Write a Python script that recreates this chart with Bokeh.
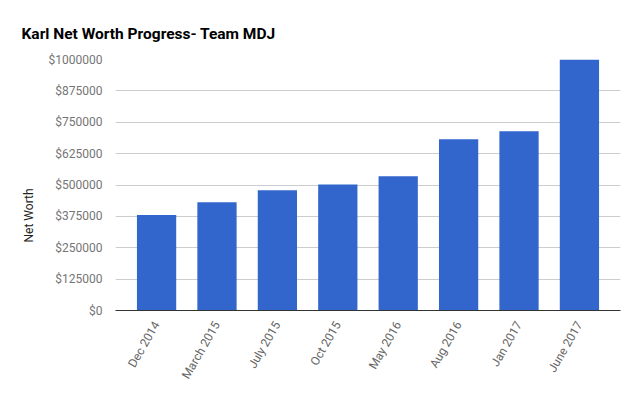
import math
from bokeh.plotting import figure
from bokeh.models import Range1d, FactorRange, FixedTicker, NumeralTickFormatter, Title, ColumnDataSource
from bokeh.embed import file_html
from bokeh.resources import INLINE

categories = ["Dec 2014", "March 2015", "July 2015", "Oct 2015", "May 2016", "Aug 2016", "Jan 2017", "June 2017"]
net_worth = [380000, 431000, 479000, 502000, 535000, 682000, 714000, 1000000]
y_ticks = [0, 125000, 250000, 375000, 500000, 625000, 750000, 875000, 1000000]

FONT = "Roboto"

src = ColumnDataSource(data=dict(cat=categories, val=net_worth))

p = figure(width=640, height=396, output_backend="svg", toolbar_location=None,
           x_range=FactorRange(*categories, range_padding=0.045),
           y_range=Range1d(0, 1000000),
           min_border_left=115, min_border_right=20, min_border_bottom=86, min_border_top=59)

p.vbar(x="cat", top="val", width=0.65, source=src, color="#3366cc", line_color=None)

p.title.text = "Karl Net Worth Progress- Team MDJ"
p.title.text_font = FONT
p.title.text_font_size = "15.5px"
p.title.text_font_style = "bold"
p.title.text_color = "#000000"
p.title.align = "left"
p.title.offset = -94
p.title.standoff = 34

p.outline_line_color = None
p.background_fill_color = "white"
p.border_fill_color = "white"

# y axis
p.yaxis.ticker = FixedTicker(ticks=y_ticks)
p.yaxis.formatter = NumeralTickFormatter(format="$0")
p.yaxis.axis_line_color = None
p.yaxis.major_tick_line_color = None
p.yaxis.minor_tick_line_color = None
p.yaxis.major_label_text_font = FONT
p.yaxis.major_label_text_font_size = "12px"
p.yaxis.major_label_text_color = "#757575"
p.yaxis.major_label_standoff = 7

# x axis
p.xaxis.axis_line_color = "#333333"
p.xaxis.major_tick_line_color = None
p.xaxis.minor_tick_line_color = None
p.xaxis.major_label_orientation = math.pi / 3
p.xaxis.major_label_text_font = FONT
p.xaxis.major_label_text_font_size = "12px"
p.xaxis.major_label_text_color = "#666666"
p.xaxis.major_label_standoff = 6

p.xgrid.grid_line_color = None
p.ygrid.grid_line_color = "#cccccc"
p.ygrid.grid_line_width = 1

ytitle = Title(text="Net Worth", align="left", offset=68, standoff=19,
               text_font=FONT, text_font_size="12px", text_font_style="normal",
               text_color="#222222")
p.add_layout(ytitle, "left")

with open("out.html", "w") as f:
    f.write(file_html(p, INLINE))
